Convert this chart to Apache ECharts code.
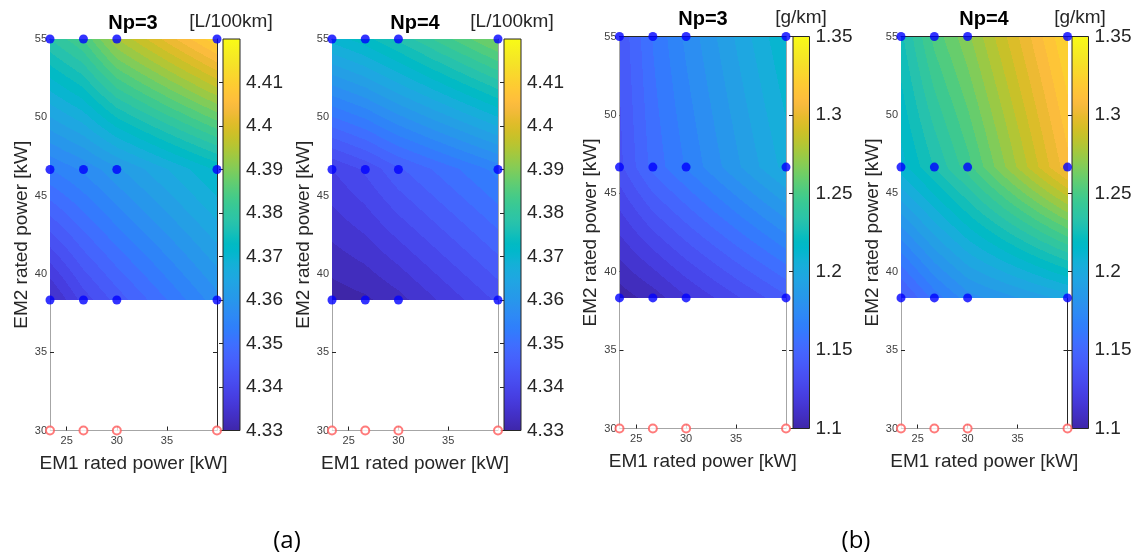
<!DOCTYPE html>
<html>
<head>
<meta charset="utf-8">
<script src="https://cdn.jsdelivr.net/npm/echarts@6/dist/echarts.min.js"></script>
<style>
  html, body { margin: 0; padding: 0; background: #fff; }
  #chart { width: 1138px; height: 553px; }
</style>
</head>
<body>
<div id="chart"></div>
<script>
// Design grid: EM1 / EM2 rated power [kW]
const em1 = [23.33, 26.67, 30, 40];
const em2 = [38.33, 46.67, 55];
const em2Infeasible = 30;

// Values on the grid: rows follow em2, columns follow em1
const fuelNp3 = [
  [4.334, 4.341, 4.346, 4.359],
  [4.355, 4.358, 4.362, 4.373],
  [4.380, 4.385, 4.395, 4.412]
];
const fuelNp4 = [
  [4.331, 4.332, 4.334, 4.343],
  [4.340, 4.343, 4.347, 4.356],
  [4.371, 4.374, 4.378, 4.391]
];
const noxNp3 = [
  [1.103, 1.110, 1.120, 1.147],
  [1.140, 1.158, 1.170, 1.207],
  [1.143, 1.163, 1.178, 1.218]
];
const noxNp4 = [
  [1.145, 1.165, 1.180, 1.200],
  [1.215, 1.232, 1.250, 1.313],
  [1.230, 1.255, 1.272, 1.330]
];

// Axis / colorbar ticks
const em1Ticks = [25, 30, 35];
const fuelTicks = [4.33, 4.34, 4.35, 4.36, 4.37, 4.38, 4.39, 4.4, 4.41];
const noxTicks = [1.1, 1.15, 1.2, 1.25, 1.3, 1.35];

// parula colormap (64 entries)
const PARULA = [
[0.2422,0.1504,0.6603],[0.2504,0.1650,0.7076],[0.2578,0.1818,0.7511],[0.2647,0.1978,0.7952],
[0.2706,0.2147,0.8364],[0.2751,0.2342,0.8710],[0.2783,0.2559,0.8991],[0.2803,0.2782,0.9221],
[0.2813,0.3006,0.9414],[0.2810,0.3228,0.9579],[0.2795,0.3447,0.9717],[0.2760,0.3667,0.9829],
[0.2699,0.3892,0.9906],[0.2602,0.4123,0.9952],[0.2440,0.4358,0.9988],[0.2206,0.4603,0.9973],
[0.1963,0.4847,0.9892],[0.1834,0.5074,0.9798],[0.1786,0.5289,0.9682],[0.1764,0.5499,0.9520],
[0.1687,0.5703,0.9359],[0.1540,0.5902,0.9218],[0.1460,0.6091,0.9079],[0.1380,0.6276,0.8973],
[0.1248,0.6459,0.8883],[0.1113,0.6635,0.8763],[0.0952,0.6798,0.8598],[0.0689,0.6948,0.8394],
[0.0297,0.7082,0.8163],[0.0036,0.7203,0.7917],[0.0067,0.7312,0.7660],[0.0433,0.7411,0.7394],
[0.0964,0.7500,0.7120],[0.1408,0.7584,0.6842],[0.1717,0.7670,0.6554],[0.1938,0.7758,0.6251],
[0.2161,0.7843,0.5923],[0.2470,0.7918,0.5567],[0.2906,0.7973,0.5188],[0.3406,0.8008,0.4789],
[0.3909,0.8029,0.4354],[0.4456,0.8024,0.3909],[0.5044,0.7993,0.3480],[0.5616,0.7942,0.3045],
[0.6174,0.7876,0.2612],[0.6720,0.7793,0.2227],[0.7242,0.7698,0.1910],[0.7738,0.7598,0.1646],
[0.8203,0.7498,0.1535],[0.8634,0.7406,0.1596],[0.9035,0.7330,0.1774],[0.9393,0.7288,0.2100],
[0.9728,0.7298,0.2394],[0.9956,0.7434,0.2371],[0.9970,0.7659,0.2199],[0.9952,0.7893,0.2028],
[0.9892,0.8136,0.1885],[0.9786,0.8386,0.1766],[0.9676,0.8639,0.1643],[0.9610,0.8890,0.1537],
[0.9597,0.9135,0.1423],[0.9628,0.9373,0.1265],[0.9691,0.9606,0.1064],[0.9769,0.9839,0.0805]
];

function parulaRGB(t) {
  t = Math.max(0, Math.min(1, t));
  const f = t * (PARULA.length - 1);
  const i = Math.min(Math.floor(f), PARULA.length - 2);
  const r = f - i;
  const a = PARULA[i], b = PARULA[i + 1];
  return [0, 1, 2].map(k => Math.round(255 * (a[k] + (b[k] - a[k]) * r)));
}

const colorStops = PARULA.map((c, i) => ({
  offset: i / (PARULA.length - 1),
  color: 'rgb(' + c.map(v => Math.round(v * 255)).join(',') + ')'
}));

const FONT = '"Liberation Sans", Arial, sans-serif';
const TXT = '#262626';
const LEVELS = 36; // filled contour levels across the colour range

const panels = [
  { left: 50,  top: 39,   w: 167, h: 391.5, cbLeft: 223,  cbW: 17,   values: fuelNp3, cmin: 4.33, cmax: 4.42, ticks: fuelTicks, title: 'Np=3', unit: '[L/100km]', titleX: 133, unitX: 231, headY: 22, rightColor: '#262626' },
  { left: 332, top: 39,   w: 166, h: 391.5, cbLeft: 504,  cbW: 17,   values: fuelNp4, cmin: 4.33, cmax: 4.42, ticks: fuelTicks, title: 'Np=4', unit: '[L/100km]', titleX: 415, unitX: 512, headY: 22, rightColor: '#a6a6a6' },
  { left: 619.5, top: 36.5, w: 166.5, h: 392, cbLeft: 793, cbW: 16.5, values: noxNp3, cmin: 1.1, cmax: 1.35, ticks: noxTicks, title: 'Np=3', unit: '[g/km]', titleX: 703, unitX: 801, headY: 18, rightColor: '#a6a6a6' },
  { left: 901, top: 36.5, w: 166.5, h: 392, cbLeft: 1072, cbW: 16.5, values: noxNp4, cmin: 1.1, cmax: 1.35, ticks: noxTicks, title: 'Np=4', unit: '[g/km]', titleX: 984, unitX: 1080, headY: 18, rightColor: '#262626' }
];

function contourRenderer(p) {
  const step = (p.cmax - p.cmin) / LEVELS;
  return function (params, api) {
    const a = api.coord([api.value(0), api.value(1)]); // lower-left corner
    const b = api.coord([api.value(2), api.value(3)]); // upper-right corner
    const v00 = api.value(4), v10 = api.value(5), v01 = api.value(6), v11 = api.value(7);
    const x0 = Math.round(a[0]), x1 = Math.round(b[0]);
    const yTop = Math.round(b[1]), yBot = Math.round(a[1]);
    const w = Math.max(1, x1 - x0), h = Math.max(1, yBot - yTop);
    const cv = document.createElement('canvas');
    cv.width = w; cv.height = h;
    const ctx = cv.getContext('2d');
    const img = ctx.createImageData(w, h);
    for (let py = 0; py < h; py++) {
      const v = 1 - (py + 0.5) / h;
      for (let px = 0; px < w; px++) {
        const u = (px + 0.5) / w;
        const val = v00 * (1 - u) * (1 - v) + v10 * u * (1 - v) + v01 * (1 - u) * v + v11 * u * v;
        const k = Math.floor((val - p.cmin) / step + 1e-9);
        const rgb = parulaRGB((k * step) / (p.cmax - p.cmin));
        const o = (py * w + px) * 4;
        img.data[o] = rgb[0]; img.data[o + 1] = rgb[1]; img.data[o + 2] = rgb[2]; img.data[o + 3] = 255;
      }
    }
    ctx.putImageData(img, 0, 0);
    return { type: 'image', style: { image: cv, x: x0, y: yTop, width: w, height: h } };
  };
}

function colorbarRenderer(params, api) {
  const a = api.coord([api.value(0), api.value(1)]);
  const b = api.coord([api.value(2), api.value(3)]);
  return {
    type: 'rect',
    shape: { x: a[0], y: b[1], width: b[0] - a[0], height: a[1] - b[1] },
    style: {
      fill: { type: 'linear', x: 0, y: 1, x2: 0, y2: 0, colorStops: colorStops },
      stroke: '#262626', lineWidth: 1
    }
  };
}

const grid = [], xAxis = [], yAxis = [], series = [], graphic = [];

panels.forEach((p) => {
  const gMain = grid.length;
  grid.push({ left: p.left, top: p.top, width: p.w, height: p.h });
  const gBar = grid.length;
  grid.push({ left: p.cbLeft, top: p.top, width: p.cbW, height: p.h });

  const xb = xAxis.length;
  xAxis.push({
    type: 'value', gridIndex: gMain, position: 'bottom', min: em1[0], max: em1[em1.length - 1],
    axisLine: { show: true, lineStyle: { color: '#a6a6a6', width: 1 } },
    axisTick: { show: true, inside: true, length: 4, customValues: em1Ticks, lineStyle: { color: '#262626' } },
    axisLabel: { customValues: em1Ticks, color: '#404040', fontSize: 11, fontFamily: FONT, margin: 5 },
    splitLine: { show: false },
    name: 'EM1 rated power [kW]', nameLocation: 'middle', nameGap: 24,
    nameTextStyle: { fontSize: 19, color: TXT, fontFamily: FONT }
  });
  xAxis.push({
    type: 'value', gridIndex: gMain, position: 'top', min: em1[0], max: em1[em1.length - 1],
    axisLine: { show: true, lineStyle: { color: '#262626', width: 1 } },
    axisTick: { show: true, inside: true, length: 4, customValues: em1Ticks, lineStyle: { color: '#262626' } },
    axisLabel: { show: false }, splitLine: { show: false }
  });
  const xc = xAxis.length;
  xAxis.push({ type: 'value', gridIndex: gBar, min: 0, max: 1, show: false });

  const yl = yAxis.length;
  yAxis.push({
    type: 'value', gridIndex: gMain, position: 'left', min: em2Infeasible, max: em2[em2.length - 1], interval: 5,
    axisLine: { show: true, lineStyle: { color: '#a6a6a6', width: 1 } },
    axisTick: { show: true, inside: true, length: 4, lineStyle: { color: '#262626' } },
    axisLabel: { color: '#404040', fontSize: 11, fontFamily: FONT, margin: 3 },
    splitLine: { show: false },
    name: 'EM2 rated power [kW]', nameLocation: 'middle', nameGap: 19, nameRotate: 90,
    nameTextStyle: { fontSize: 19, color: TXT, fontFamily: FONT }
  });
  yAxis.push({
    type: 'value', gridIndex: gMain, position: 'right', min: em2Infeasible, max: em2[em2.length - 1], interval: 5,
    axisLine: { show: true, lineStyle: { color: p.rightColor, width: 1 } },
    axisTick: { show: true, inside: true, length: 4, lineStyle: { color: '#262626' } },
    axisLabel: { show: false }, splitLine: { show: false }
  });
  const yc = yAxis.length;
  yAxis.push({
    type: 'value', gridIndex: gBar, position: 'right', min: p.cmin, max: p.cmax,
    axisLine: { show: false },
    axisTick: { show: true, inside: true, length: 4, customValues: p.ticks, lineStyle: { color: '#262626' } },
    axisLabel: {
      customValues: p.ticks, color: TXT, fontSize: 19, fontFamily: FONT, margin: 6,
      formatter: v => String(parseFloat(Number(v).toFixed(3)))
    },
    splitLine: { show: false }
  });

  // filled contour cells between neighbouring grid nodes
  const cells = [];
  for (let j = 0; j < em2.length - 1; j++) {
    for (let i = 0; i < em1.length - 1; i++) {
      cells.push([em1[i], em2[j], em1[i + 1], em2[j + 1],
        p.values[j][i], p.values[j][i + 1], p.values[j + 1][i], p.values[j + 1][i + 1]]);
    }
  }
  series.push({
    type: 'custom', xAxisIndex: xb, yAxisIndex: yl, renderItem: contourRenderer(p),
    data: cells, encode: { x: [0, 2], y: [1, 3] }, silent: true, z: 1
  });

  // colorbar
  series.push({
    type: 'custom', xAxisIndex: xc, yAxisIndex: yc, renderItem: colorbarRenderer,
    data: [[0, p.cmin, 1, p.cmax]], encode: { x: [0, 2], y: [1, 3] }, silent: true, z: 1
  });

  // evaluated designs
  const feasible = [];
  em2.forEach(y => em1.forEach(x => feasible.push([x, y])));
  series.push({
    type: 'scatter', xAxisIndex: xb, yAxisIndex: yl, data: feasible, symbol: 'circle', symbolSize: 9,
    itemStyle: { color: '#0000ff' }, clip: false, silent: true, z: 5
  });
  series.push({
    type: 'scatter', xAxisIndex: xb, yAxisIndex: yl, data: em1.map(x => [x, em2Infeasible]),
    symbol: 'emptyCircle', symbolSize: 8,
    itemStyle: { color: '#ff5a5a', borderColor: '#ff5a5a', borderWidth: 0.8 }, clip: false, silent: true, z: 5
  });

  graphic.push({
    type: 'text', silent: true,
    style: { text: p.title, x: p.titleX, y: p.headY + 1, align: 'center', verticalAlign: 'middle', font: 'bold 20px ' + FONT, fill: '#000' }
  });
  graphic.push({
    type: 'text', silent: true,
    style: { text: p.unit, x: p.unitX, y: p.headY, align: 'center', verticalAlign: 'middle', font: '19px ' + FONT, fill: TXT }
  });
});

graphic.push({ type: 'text', silent: true, style: { text: '(a)', x: 287, y: 541, align: 'center', verticalAlign: 'middle', font: '24px "Open Sans", Lato, sans-serif', fill: '#000' } });
graphic.push({ type: 'text', silent: true, style: { text: '(b)', x: 856, y: 541, align: 'center', verticalAlign: 'middle', font: '24px "Open Sans", Lato, sans-serif', fill: '#000' } });

const chart = echarts.init(document.getElementById('chart'), null, { renderer: 'canvas' });
chart.setOption({
  backgroundColor: '#fff',
  animation: false,
  grid, xAxis, yAxis, series, graphic
});
</script>
</body>
</html>
